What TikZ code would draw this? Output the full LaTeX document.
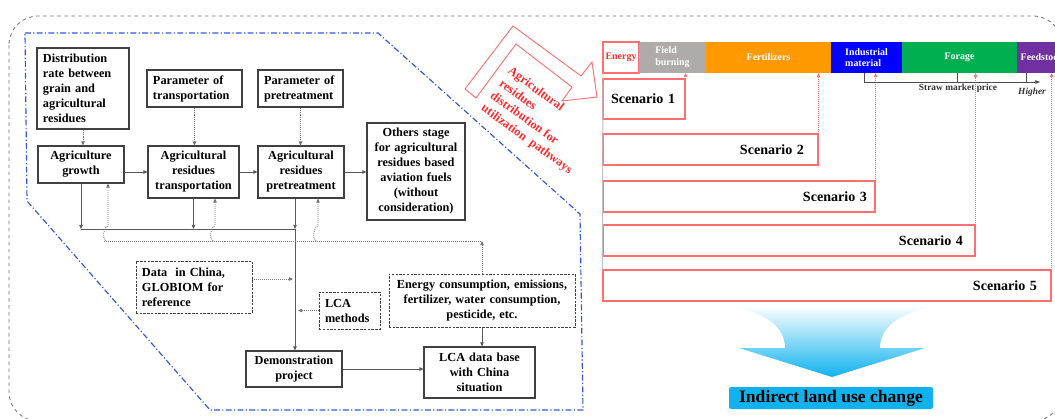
\documentclass[tikz,border=0pt]{standalone}
\usepackage{fontspec}
\setmainfont{Liberation Serif}
\usetikzlibrary{positioning,calc,arrows.meta}
\definecolor{redl}{HTML}{FF6F6F}
\definecolor{redt}{HTML}{FF2A2A}
\definecolor{fgray}{HTML}{AFABAB}
\definecolor{forange}{HTML}{FF9900}
\definecolor{fblue}{HTML}{0000FF}
\definecolor{fgreen}{HTML}{00B050}
\definecolor{fpurple}{HTML}{7030A0}
\definecolor{cyanb}{HTML}{10B2EE}
\definecolor{dashblue}{HTML}{3358DD}

\begin{document}
\begin{tikzpicture}[x=0.03cm,y=-0.03cm,
  box/.style={draw=black!75,line width=0.9pt,inner xsep=0pt,inner ysep=0pt,
    font=\bfseries\fontsize{10.5}{12.8}\selectfont,align=center},
  lbox/.style={box,align=left,inner xsep=0.18cm},
  dbox/.style={draw=black!75,line width=0.8pt,dash pattern=on 2pt off 1.2pt},
  seg/.style={minimum height=0.93cm,inner sep=0pt,outer sep=0pt,text=white,
    font=\bfseries\fontsize{8.5}{10}\selectfont,align=left},
  scen/.style={draw=redl,line width=1pt,minimum height=0.93cm,inner ysep=0pt,
    font=\bfseries\fontsize{12}{14}\selectfont,align=right},
  solidarr/.style={draw=black!65,line width=0.7pt,-{Triangle[length=3.5pt,width=3pt]}},
  dotarr/.style={draw=black!55,line width=0.7pt,densely dotted,-{Triangle[length=3.5pt,width=3pt]}},
  redarr/.style={draw=redl,line width=0.7pt,densely dotted,-{Triangle[length=3.5pt,width=3pt]}}]
\useasboundingbox (0,0) rectangle (1055,419);
\clip (0,0) rectangle (1055,419);

\draw[black!55,dashed,line width=0.7pt,rounded corners=0.87cm] (9,16) rectangle (1062,421);
\draw[dashblue,line width=1pt,dash pattern=on 5pt off 2pt on 1pt off 2pt]
  (25,33) -- (378,33) -- (580,214) -- (583,410) -- (210,410) -- (27,201) -- cycle;

\node[lbox,text width=2.4cm,minimum height=2.43cm] (dist) at (83,88.5) {Distribution\\rate between\\grain and\\agricultural\\residues};
\node[lbox,text width=2.49cm,minimum height=1.11cm] (ptrans) at (194.5,88.5) {Parameter of\\transportation};
\node[lbox,text width=2.19cm,minimum height=1.11cm] (ppre) at (300.5,88.5) {Parameter of\\pretreatment};
\node[box,text width=2.58cm,minimum height=1.11cm] (grow) at (81,164.5) {Agriculture\\growth};
\node[box,text width=2.73cm,minimum height=1.56cm] (trans) at (193.5,172) {Agricultural\\residues\\transportation};
\node[box,text width=2.58cm,minimum height=1.56cm] (pre) at (301,172) {Agricultural\\residues\\pretreatment};
\node[box,text width=2.94cm,minimum height=2.91cm] (others) at (416,171.5) {Others stage\\for agricultural\\residues based\\aviation fuels\\(without\\consideration)};
\node[lbox,dbox,text width=3.12cm,minimum height=1.56cm] (data) at (194,287) {Data\ \ in China,\\GLOBIOM for\\reference};
\node[lbox,dbox,text width=1.47cm,minimum height=1.11cm] (lca) at (349.5,310.5) {LCA\\methods};
\node[box,dbox,text width=5.58cm,minimum height=1.59cm] (energy) at (482,300.5) {Energy consumption, emissions,\\fertilizer, water consumption,\\pesticide, etc.};
\node[box,text width=2.88cm,minimum height=1.08cm] (demo) at (294,369) {Demonstration\\project};
\node[box,text width=3.33cm,minimum height=1.53cm] (lcadb) at (479.5,372.5) {LCA data base\\with China\\situation};

\coordinate (busl) at (82,229);
\coordinate (busr) at (295,229);
\coordinate (fbl) at (104,241);
\coordinate (fbr) at (482,241);

\draw[solidarr] (grow.east |- trans.west) -- (trans.west);
\draw[solidarr] (trans.east) -- (pre.west);
\draw[solidarr] (pre.east) -- (others.west |- pre.east);
\draw[dotarr] (dist.south) -- (dist.south |- grow.north);
\draw[dotarr] (ptrans.south) -- (ptrans.south |- trans.north);
\draw[dotarr] (ppre.south) -- (ppre.south |- pre.north);
\draw[solidarr] (grow.south) -- (grow.south |- busl);
\draw[solidarr] (trans.south) -- (trans.south |- busl);
\draw[solidarr] ($(pre.south)+(-6,0)$) -- (busr);
\draw[black!65,line width=0.7pt] (grow.south |- busl) -- (busr);
\draw[solidarr] (busr) -- (busr |- demo.north);
\draw[black!55,line width=0.7pt,densely dotted] (fbl) -- (fbr);
\foreach \n/\dx in {grow/27,trans/21.5,pre/17}
  \draw[dotarr] ($(\n.south |- fbl)+(\dx-2,0)$) .. controls ($(\n.south |- fbl)+(\dx-6,-3)$) and ($(\n.south |- busl)+(\dx-5,0)$) .. ($(\n.south |- busl)+(\dx,-4)$) -- ($(\n.south)+(\dx,0)$);
\draw[dotarr] (energy.north) -- (energy.north |- fbr);
\draw[dotarr] ($(data.east)+(0,-8)$) -- ($(busr |- data.east)+(-2,-8)$);
\draw[dotarr] (lca.west) -- ($(busr |- lca.west)+(3,0)$);
\draw[solidarr] (demo.east) -- (lcadb.west |- demo.east);
\draw[solidarr] (energy.south) -- (energy.south |- lcadb.north);

\draw[redl,line width=0.8pt] (465,89) -- (513,26) -- (581,76) -- (592,62) -- (597,97) -- (562,101) -- (572,87) -- (516,44) -- (476,98) -- cycle;
\node[rotate=-36,align=left,text=redt,font=\bfseries\fontsize{10.5}{13}\selectfont] (pathw) at (540,121) {Agricultural\\residues\\distribution for\\utilization\ \ pathways};

\node[seg,draw=redl,line width=1pt,text=redt,fill=white,minimum width=1.08cm] (en) at (621,57.5) {Energy};
\node[seg,fill=fgray,minimum width=2.01cm,right=0pt of en] (fb) {Field\\burning};
\node[seg,fill=forange,minimum width=3.75cm,right=0pt of fb] (fert) {Fertilizers};
\node[seg,fill=fblue,minimum width=2.13cm,right=0pt of fert] (ind) {Industrial\\material};
\node[seg,fill=fgreen,minimum width=3.45cm,right=0pt of ind] (forage) {Forage};
\node[seg,fill=fpurple,minimum width=1.5cm,right=0pt of forage] (feed) {Feedstock};

\node[scen,align=left,inner xsep=0.24cm,text width=1.98cm,minimum height=1.2cm] (s1) at (644,99) {Scenario 1};
\node[scen,inner xsep=0.42cm,text width=5.61cm] (s2) at (710.5,149.5) {Scenario 2};
\node[scen,inner xsep=0.24cm,text width=7.68cm] (s3) at (739,196.5) {Scenario 3};
\node[scen,inner xsep=0.36cm,text width=10.44cm] (s4) at (789,240.5) {Scenario 4};
\node[scen,inner xsep=0.42cm,text width=12.6cm] (s5) at (827,285.5) {Scenario 5};
\draw[black!25,line width=0.8pt] (en.south west) -- (s5.north west);
\foreach \s/\t in {s1/fb,s2/fert,s3/ind,s4/forage,s5/feed}
  \draw[redarr] (\s.north east) -- (\s.north east |- \t.south);

\coordinate (b1) at (864,82);
\coordinate (b2) at (957,82);
\coordinate (b3) at (1026,82);
\coordinate (b4) at (1040,82);
\draw[black!70,line width=0.6pt,-{Triangle[length=4pt,width=3pt]}] (b1 |- ind.south) -- (b1) -- (b4);
\draw[black!70,line width=0.6pt] (b2 |- forage.south) -- (b2) (b3 |- forage.south) -- (b3);
\node[font=\bfseries\fontsize{8}{9}\selectfont,text=black!80] (smp) at (958,88) {Straw market price};
\node[font=\bfseries\itshape\fontsize{8}{9}\selectfont,text=black!80] (hi) at (1032,92) {Higher};

\shade[top color=white,middle color=cyanb!45,bottom color=cyanb]
  (725,305) .. controls (768,312) and (785,328) .. (785,348) -- (739,348) -- (832,377) -- (925,348) -- (880,348) .. controls (880,328) and (897,312) .. (943,305) -- cycle;
\node[fill=cyanb,rounded corners=2pt,minimum width=6.12cm,minimum height=0.66cm,inner sep=0pt,font=\bfseries\fontsize{15}{16}\selectfont] (iluc) at (831,398) {Indirect land use change};
\end{tikzpicture}
\end{document}
